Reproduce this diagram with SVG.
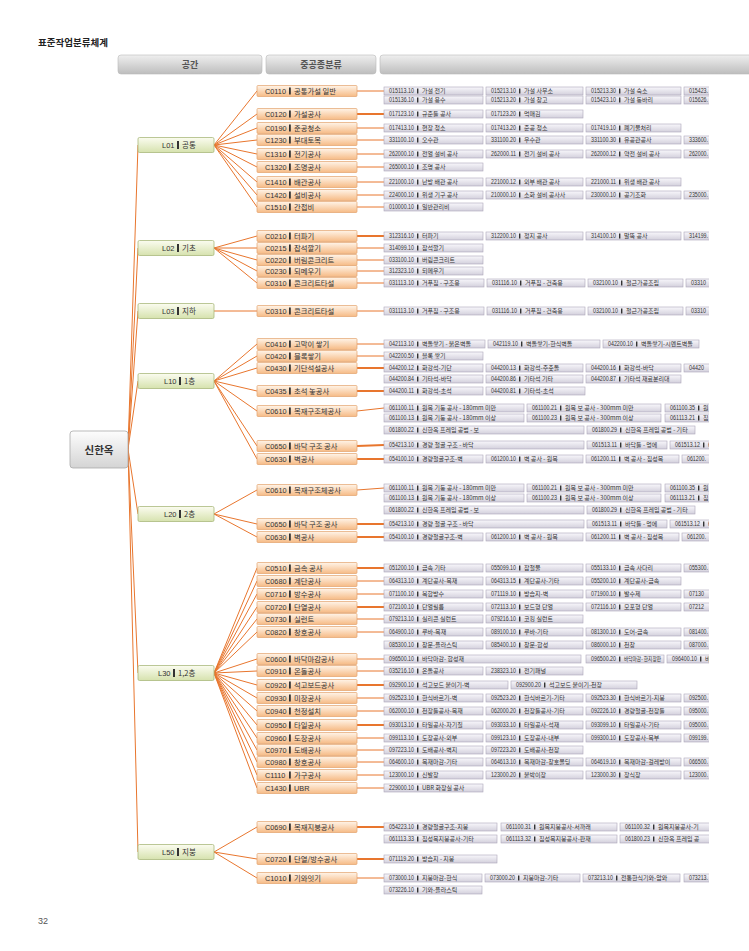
<svg xmlns="http://www.w3.org/2000/svg" width="749" height="951" viewBox="0 0 749 951">
<defs>
<linearGradient id="gh" x1="0" y1="0" x2="0" y2="1"><stop offset="0" stop-color="#efefef"/><stop offset="1" stop-color="#bdbdbd"/></linearGradient>
<linearGradient id="gr" x1="0" y1="0" x2="0" y2="1"><stop offset="0" stop-color="#fdfdfd"/><stop offset="1" stop-color="#d4d4d4"/></linearGradient>
<linearGradient id="gl" x1="0" y1="0" x2="0" y2="1"><stop offset="0" stop-color="#fbfcf0"/><stop offset="1" stop-color="#d6e2ae"/></linearGradient>
<linearGradient id="gc" x1="0" y1="0" x2="0" y2="1"><stop offset="0" stop-color="#fff4e8"/><stop offset="1" stop-color="#f6bb86"/></linearGradient>
<linearGradient id="gi" x1="0" y1="0" x2="0" y2="1"><stop offset="0" stop-color="#f8f7fb"/><stop offset="1" stop-color="#d3d0dc"/></linearGradient>
<clipPath id="cp"><rect x="0" y="0" width="709" height="951"/></clipPath>
</defs>
<style>
.ttl{font:bold 9.5px "Noto Sans CJK KR","Noto Sans",sans-serif;fill:#222}
.pg{font:9px "Liberation Sans",sans-serif;fill:#555}
.hb{fill:url(#gh);stroke:#b8b8b8;stroke-width:.6}
.ht{font:bold 9px "Noto Sans CJK KR",sans-serif;fill:#555;text-anchor:middle}
.rb{fill:url(#gr);stroke:#aaaaaa;stroke-width:.8}
.rt{font:bold 10.5px "Noto Sans CJK KR",sans-serif;fill:#333;text-anchor:middle}
.lb{fill:url(#gl);stroke:#a9b97c;stroke-width:.8}
.lc{font:7.5px "Liberation Sans",sans-serif;fill:#333}
.lm{font:7.5px "Noto Sans CJK KR",sans-serif;fill:#333}
.cb{fill:url(#gc);stroke:#e2a26c;stroke-width:.7}
.cc{font:7.3px "Liberation Sans",sans-serif;fill:#333}
.cm{font:7.3px "Noto Sans CJK KR",sans-serif;fill:#333}
.br{fill:#333}
.ib{fill:url(#gi);stroke:#aca6b8;stroke-width:.6}
.ic{font:6.5px "Liberation Sans",sans-serif;fill:#333}
.im{font:6px "Noto Sans CJK KR",sans-serif;fill:#333}
.ln{stroke:#e8762e;fill:none;stroke-width:1}
.lk{stroke:#e8762e;fill:none;stroke-width:2}
</style>
<rect width="749" height="951" fill="#ffffff"/>
<text class="ttl" x="38" y="46">표준작업분류체계</text>
<g id="header">
<rect class="hb" x="118" y="55" width="144" height="19" rx="3"/><text class="ht" x="190" y="68">공간</text>
<rect class="hb" x="266" y="55" width="110" height="19" rx="3"/><text class="ht" x="321" y="68">중공종분류</text>
<rect class="hb" x="380" y="55" width="375" height="19" rx="3"/>
</g>
<text class="pg" x="38" y="924">32</text>

<g id="connectors">
<path class="ln" d="M128,449 L138,145 M128,449 L138,248 M128,449 L138,311 M128,449 L138,381 M128,449 L138,514 M128,449 L138,673 M128,449 L138,852"/>
<path class="ln" d="M214,145 L257,91 M214,145 L257,114 M214,145 L257,128 M214,145 L257,140 M214,145 L257,154 M214,145 L257,167 M214,145 L257,182 M214,145 L257,195 M214,145 L257,207"/>
<path class="ln" d="M214,248 L257,236 M214,248 L257,248 M214,248 L257,260 M214,248 L257,271 M214,248 L257,283 M214,311 L257,311"/>
<path class="ln" d="M214,381 L257,344 M214,381 L257,356 M214,381 L257,368 M214,381 L257,391 M214,381 L257,411 M214,381 L257,446 M214,381 L257,459"/>
<path class="ln" d="M214,514 L257,490 M214,514 L257,524 M214,514 L257,537"/>
<path class="ln" d="M214,673 L257,568 M214,673 L257,581 M214,673 L257,594 M214,673 L257,607 M214,673 L257,619 M214,673 L257,632 M214,673 L257,659 M214,673 L257,671 M214,673 L257,685 M214,673 L257,698 M214,673 L257,711 M214,673 L257,725 M214,673 L257,738 M214,673 L257,750 M214,673 L257,762 M214,673 L257,775 M214,673 L257,788"/>
<path class="ln" d="M214,852 L257,827 M214,852 L257,859 M214,852 L257,878"/>
<path class="ln" d="M357,91 L384,91 M357,128 L384,128 M357,140 L384,140 M357,154 L384,154 M357,167 L384,167 M357,182 L384,182 M357,195 L384,195 M357,207 L384,207 M357,248 L384,248 M357,260 L384,260 M357,271 L384,271 M357,283 L384,283 M357,311 L384,311 M357,344 L384,344 M357,356 L384,356 M357,411 L384,408 M357,490 L384,488 M357,581 L384,581 M357,594 L384,594 M357,619 L384,619 M357,632 L384,632 M357,659 L384,659 M357,671 L384,671 M357,698 L384,698 M357,711 L384,711 M357,738 L384,738 M357,750 L384,750 M357,762 L384,762 M357,775 L384,775 M357,788 L384,788 M357,878 L384,878"/>
<path class="lk" d="M357,114 L384,114 M357,236 L384,236 M357,368 L384,368 M357,391 L384,391 M357,446 L384,445 M357,459 L384,459 M357,524 L384,524 M357,537 L384,537 M357,568 L384,568 M357,607 L384,607 M357,685 L384,685 M357,725 L384,725 M357,827 L384,827 M357,859 L384,859"/>
</g>

<g id="root"><rect class="rb" x="70" y="431" width="58" height="37" rx="3"/><text class="rt" x="99" y="453.5">신한옥</text></g>

<g id="L01" transform="translate(138,137.5)"><rect class="lb" width="76" height="15" rx="1.5"/><text class="lc" x="24" y="10.6">L01</text><rect class="br" x="39" y="3.5" width="2" height="8"/><text class="lm" x="44" y="10.8">공통</text></g>
<g id="L02" transform="translate(138,240.5)"><rect class="lb" width="76" height="15" rx="1.5"/><text class="lc" x="24" y="10.6">L02</text><rect class="br" x="39" y="3.5" width="2" height="8"/><text class="lm" x="44" y="10.8">기초</text></g>
<g id="L03" transform="translate(138,303.5)"><rect class="lb" width="76" height="15" rx="1.5"/><text class="lc" x="24" y="10.6">L03</text><rect class="br" x="39" y="3.5" width="2" height="8"/><text class="lm" x="44" y="10.8">지하</text></g>
<g id="L10" transform="translate(138,373.5)"><rect class="lb" width="76" height="15" rx="1.5"/><text class="lc" x="26" y="10.6">L10</text><rect class="br" x="41" y="3.5" width="2" height="8"/><text class="lm" x="46" y="10.8">1층</text></g>
<g id="L20" transform="translate(138,506.5)"><rect class="lb" width="76" height="15" rx="1.5"/><text class="lc" x="26" y="10.6">L20</text><rect class="br" x="41" y="3.5" width="2" height="8"/><text class="lm" x="46" y="10.8">2층</text></g>
<g id="L30" transform="translate(138,665.5)"><rect class="lb" width="76" height="15" rx="1.5"/><text class="lc" x="20" y="10.6">L30</text><rect class="br" x="35" y="3.5" width="2" height="8"/><text class="lm" x="40" y="10.8">1,2층</text></g>
<g id="L50" transform="translate(138,844.5)"><rect class="lb" width="76" height="15" rx="1.5"/><text class="lc" x="24" y="10.6">L50</text><rect class="br" x="39" y="3.5" width="2" height="8"/><text class="lm" x="44" y="10.8">지붕</text></g>

<g id="C0110" transform="translate(257,85.5)"><rect class="cb" width="100" height="11" rx="1"/><text class="cc" x="8" y="8.4">C0110</text><rect class="br" x="32" y="2" width="1.8" height="7"/><text class="cm" x="37" y="8.6">공통가설 일반</text></g>
<g id="C0120" transform="translate(257,108.5)"><rect class="cb" width="100" height="11" rx="1"/><text class="cc" x="8" y="8.4">C0120</text><rect class="br" x="32" y="2" width="1.8" height="7"/><text class="cm" x="37" y="8.6">가설공사</text></g>
<g id="C0190" transform="translate(257,122.5)"><rect class="cb" width="100" height="11" rx="1"/><text class="cc" x="8" y="8.4">C0190</text><rect class="br" x="32" y="2" width="1.8" height="7"/><text class="cm" x="37" y="8.6">준공청소</text></g>
<g id="C1230" transform="translate(257,134.5)"><rect class="cb" width="100" height="11" rx="1"/><text class="cc" x="8" y="8.4">C1230</text><rect class="br" x="32" y="2" width="1.8" height="7"/><text class="cm" x="37" y="8.6">부대토목</text></g>
<g id="C1310" transform="translate(257,148.5)"><rect class="cb" width="100" height="11" rx="1"/><text class="cc" x="8" y="8.4">C1310</text><rect class="br" x="32" y="2" width="1.8" height="7"/><text class="cm" x="37" y="8.6">전기공사</text></g>
<g id="C1320" transform="translate(257,161.5)"><rect class="cb" width="100" height="11" rx="1"/><text class="cc" x="8" y="8.4">C1320</text><rect class="br" x="32" y="2" width="1.8" height="7"/><text class="cm" x="37" y="8.6">조명공사</text></g>
<g id="C1410" transform="translate(257,176.5)"><rect class="cb" width="100" height="11" rx="1"/><text class="cc" x="8" y="8.4">C1410</text><rect class="br" x="32" y="2" width="1.8" height="7"/><text class="cm" x="37" y="8.6">배관공사</text></g>
<g id="C1420" transform="translate(257,189.5)"><rect class="cb" width="100" height="11" rx="1"/><text class="cc" x="8" y="8.4">C1420</text><rect class="br" x="32" y="2" width="1.8" height="7"/><text class="cm" x="37" y="8.6">설비공사</text></g>
<g id="C1510" transform="translate(257,201.5)"><rect class="cb" width="100" height="11" rx="1"/><text class="cc" x="8" y="8.4">C1510</text><rect class="br" x="32" y="2" width="1.8" height="7"/><text class="cm" x="37" y="8.6">간접비</text></g>
<g id="C0210" transform="translate(257,230.5)"><rect class="cb" width="100" height="11" rx="1"/><text class="cc" x="8" y="8.4">C0210</text><rect class="br" x="32" y="2" width="1.8" height="7"/><text class="cm" x="37" y="8.6">터파기</text></g>
<g id="C0215" transform="translate(257,242.5)"><rect class="cb" width="100" height="11" rx="1"/><text class="cc" x="8" y="8.4">C0215</text><rect class="br" x="32" y="2" width="1.8" height="7"/><text class="cm" x="37" y="8.6">잡석깔기</text></g>
<g id="C0220" transform="translate(257,254.5)"><rect class="cb" width="100" height="11" rx="1"/><text class="cc" x="8" y="8.4">C0220</text><rect class="br" x="32" y="2" width="1.8" height="7"/><text class="cm" x="37" y="8.6">버림콘크리트</text></g>
<g id="C0230" transform="translate(257,265.5)"><rect class="cb" width="100" height="11" rx="1"/><text class="cc" x="8" y="8.4">C0230</text><rect class="br" x="32" y="2" width="1.8" height="7"/><text class="cm" x="37" y="8.6">되메우기</text></g>
<g id="C0310a" transform="translate(257,277.5)"><rect class="cb" width="100" height="11" rx="1"/><text class="cc" x="8" y="8.4">C0310</text><rect class="br" x="32" y="2" width="1.8" height="7"/><text class="cm" x="37" y="8.6">콘크리트타설</text></g>
<g id="C0310b" transform="translate(257,305.5)"><rect class="cb" width="100" height="11" rx="1"/><text class="cc" x="8" y="8.4">C0310</text><rect class="br" x="32" y="2" width="1.8" height="7"/><text class="cm" x="37" y="8.6">콘크리트타설</text></g>
<g id="C0410" transform="translate(257,338.5)"><rect class="cb" width="100" height="11" rx="1"/><text class="cc" x="8" y="8.4">C0410</text><rect class="br" x="32" y="2" width="1.8" height="7"/><text class="cm" x="37" y="8.6">고막이 쌓기</text></g>
<g id="C0420" transform="translate(257,350.5)"><rect class="cb" width="100" height="11" rx="1"/><text class="cc" x="8" y="8.4">C0420</text><rect class="br" x="32" y="2" width="1.8" height="7"/><text class="cm" x="37" y="8.6">블록쌓기</text></g>
<g id="C0430" transform="translate(257,362.5)"><rect class="cb" width="100" height="11" rx="1"/><text class="cc" x="8" y="8.4">C0430</text><rect class="br" x="32" y="2" width="1.8" height="7"/><text class="cm" x="37" y="8.6">기단석설공사</text></g>
<g id="C0435" transform="translate(257,385.5)"><rect class="cb" width="100" height="11" rx="1"/><text class="cc" x="8" y="8.4">C0435</text><rect class="br" x="32" y="2" width="1.8" height="7"/><text class="cm" x="37" y="8.6">초석 놓공사</text></g>
<g id="C0610a" transform="translate(257,405.5)"><rect class="cb" width="100" height="11" rx="1"/><text class="cc" x="8" y="8.4">C0610</text><rect class="br" x="32" y="2" width="1.8" height="7"/><text class="cm" x="37" y="8.6">목재구조체공사</text></g>
<g id="C0650a" transform="translate(257,440.5)"><rect class="cb" width="100" height="11" rx="1"/><text class="cc" x="8" y="8.4">C0650</text><rect class="br" x="32" y="2" width="1.8" height="7"/><text class="cm" x="37" y="8.6">바닥 구조 공사</text></g>
<g id="C0630a" transform="translate(257,453.5)"><rect class="cb" width="100" height="11" rx="1"/><text class="cc" x="8" y="8.4">C0630</text><rect class="br" x="32" y="2" width="1.8" height="7"/><text class="cm" x="37" y="8.6">벽공사</text></g>
<g id="C0610b" transform="translate(257,484.5)"><rect class="cb" width="100" height="11" rx="1"/><text class="cc" x="8" y="8.4">C0610</text><rect class="br" x="32" y="2" width="1.8" height="7"/><text class="cm" x="37" y="8.6">목재구조체공사</text></g>
<g id="C0650b" transform="translate(257,518.5)"><rect class="cb" width="100" height="11" rx="1"/><text class="cc" x="8" y="8.4">C0650</text><rect class="br" x="32" y="2" width="1.8" height="7"/><text class="cm" x="37" y="8.6">바닥 구조 공사</text></g>
<g id="C0630b" transform="translate(257,531.5)"><rect class="cb" width="100" height="11" rx="1"/><text class="cc" x="8" y="8.4">C0630</text><rect class="br" x="32" y="2" width="1.8" height="7"/><text class="cm" x="37" y="8.6">벽공사</text></g>
<g id="C0510" transform="translate(257,562.5)"><rect class="cb" width="100" height="11" rx="1"/><text class="cc" x="8" y="8.4">C0510</text><rect class="br" x="32" y="2" width="1.8" height="7"/><text class="cm" x="37" y="8.6">금속 공사</text></g>
<g id="C0680" transform="translate(257,575.5)"><rect class="cb" width="100" height="11" rx="1"/><text class="cc" x="8" y="8.4">C0680</text><rect class="br" x="32" y="2" width="1.8" height="7"/><text class="cm" x="37" y="8.6">계단공사</text></g>
<g id="C0710" transform="translate(257,588.5)"><rect class="cb" width="100" height="11" rx="1"/><text class="cc" x="8" y="8.4">C0710</text><rect class="br" x="32" y="2" width="1.8" height="7"/><text class="cm" x="37" y="8.6">방수공사</text></g>
<g id="C0720a" transform="translate(257,601.5)"><rect class="cb" width="100" height="11" rx="1"/><text class="cc" x="8" y="8.4">C0720</text><rect class="br" x="32" y="2" width="1.8" height="7"/><text class="cm" x="37" y="8.6">단열공사</text></g>
<g id="C0730" transform="translate(257,613.5)"><rect class="cb" width="100" height="11" rx="1"/><text class="cc" x="8" y="8.4">C0730</text><rect class="br" x="32" y="2" width="1.8" height="7"/><text class="cm" x="37" y="8.6">실런트</text></g>
<g id="C0820" transform="translate(257,626.5)"><rect class="cb" width="100" height="11" rx="1"/><text class="cc" x="8" y="8.4">C0820</text><rect class="br" x="32" y="2" width="1.8" height="7"/><text class="cm" x="37" y="8.6">창호공사</text></g>
<g id="C0600" transform="translate(257,653.5)"><rect class="cb" width="100" height="11" rx="1"/><text class="cc" x="8" y="8.4">C0600</text><rect class="br" x="32" y="2" width="1.8" height="7"/><text class="cm" x="37" y="8.6">바닥마감공사</text></g>
<g id="C0910" transform="translate(257,665.5)"><rect class="cb" width="100" height="11" rx="1"/><text class="cc" x="8" y="8.4">C0910</text><rect class="br" x="32" y="2" width="1.8" height="7"/><text class="cm" x="37" y="8.6">온돌공사</text></g>
<g id="C0920" transform="translate(257,679.5)"><rect class="cb" width="100" height="11" rx="1"/><text class="cc" x="8" y="8.4">C0920</text><rect class="br" x="32" y="2" width="1.8" height="7"/><text class="cm" x="37" y="8.6">석고보드공사</text></g>
<g id="C0930" transform="translate(257,692.5)"><rect class="cb" width="100" height="11" rx="1"/><text class="cc" x="8" y="8.4">C0930</text><rect class="br" x="32" y="2" width="1.8" height="7"/><text class="cm" x="37" y="8.6">미장공사</text></g>
<g id="C0940" transform="translate(257,705.5)"><rect class="cb" width="100" height="11" rx="1"/><text class="cc" x="8" y="8.4">C0940</text><rect class="br" x="32" y="2" width="1.8" height="7"/><text class="cm" x="37" y="8.6">천정설치</text></g>
<g id="C0950" transform="translate(257,719.5)"><rect class="cb" width="100" height="11" rx="1"/><text class="cc" x="8" y="8.4">C0950</text><rect class="br" x="32" y="2" width="1.8" height="7"/><text class="cm" x="37" y="8.6">타일공사</text></g>
<g id="C0960" transform="translate(257,732.5)"><rect class="cb" width="100" height="11" rx="1"/><text class="cc" x="8" y="8.4">C0960</text><rect class="br" x="32" y="2" width="1.8" height="7"/><text class="cm" x="37" y="8.6">도장공사</text></g>
<g id="C0970" transform="translate(257,744.5)"><rect class="cb" width="100" height="11" rx="1"/><text class="cc" x="8" y="8.4">C0970</text><rect class="br" x="32" y="2" width="1.8" height="7"/><text class="cm" x="37" y="8.6">도배공사</text></g>
<g id="C0980" transform="translate(257,756.5)"><rect class="cb" width="100" height="11" rx="1"/><text class="cc" x="8" y="8.4">C0980</text><rect class="br" x="32" y="2" width="1.8" height="7"/><text class="cm" x="37" y="8.6">창호공사</text></g>
<g id="C1110" transform="translate(257,769.5)"><rect class="cb" width="100" height="11" rx="1"/><text class="cc" x="8" y="8.4">C1110</text><rect class="br" x="32" y="2" width="1.8" height="7"/><text class="cm" x="37" y="8.6">가구공사</text></g>
<g id="C1430" transform="translate(257,782.5)"><rect class="cb" width="100" height="11" rx="1"/><text class="cc" x="8" y="8.4">C1430</text><rect class="br" x="32" y="2" width="1.8" height="7"/><text class="cc" x="37" y="8.4">UBR</text></g>
<g id="C0690" transform="translate(257,821.5)"><rect class="cb" width="100" height="11" rx="1"/><text class="cc" x="8" y="8.4">C0690</text><rect class="br" x="32" y="2" width="1.8" height="7"/><text class="cm" x="37" y="8.6">목재지붕공사</text></g>
<g id="C0720b" transform="translate(257,853.5)"><rect class="cb" width="100" height="11" rx="1"/><text class="cc" x="8" y="8.4">C0720</text><rect class="br" x="32" y="2" width="1.8" height="7"/><text class="cm" x="37" y="8.6">단열/방수공사</text></g>
<g id="C1010" transform="translate(257,872.5)"><rect class="cb" width="100" height="11" rx="1"/><text class="cc" x="8" y="8.4">C1010</text><rect class="br" x="32" y="2" width="1.8" height="7"/><text class="cm" x="37" y="8.6">기와잇기</text></g>

<g id="items" clip-path="url(#cp)">
<g transform="translate(384,87)"><rect class="ib" width="99" height="8"/><text class="ic" x="5" y="6.2" textLength="25" lengthAdjust="spacingAndGlyphs">015113.10</text><rect class="br" x="33" y="1.5" width="1.4" height="5"/><text class="im" x="38" y="6.4">가설 전기</text></g>
<g transform="translate(486,87)"><rect class="ib" width="97" height="8"/><text class="ic" x="5" y="6.2" textLength="25" lengthAdjust="spacingAndGlyphs">015213.10</text><rect class="br" x="33" y="1.5" width="1.4" height="5"/><text class="im" x="38" y="6.4">가설 사무소</text></g>
<g transform="translate(586,87)"><rect class="ib" width="95" height="8"/><text class="ic" x="5" y="6.2" textLength="25" lengthAdjust="spacingAndGlyphs">015213.30</text><rect class="br" x="33" y="1.5" width="1.4" height="5"/><text class="im" x="38" y="6.4">가설 숙소</text></g>
<g transform="translate(684,87)"><rect class="ib" width="40" height="8"/><text class="ic" x="5" y="6.2" textLength="19" lengthAdjust="spacingAndGlyphs">015423.</text></g>
<g transform="translate(384,96)"><rect class="ib" width="99" height="8"/><text class="ic" x="5" y="6.2" textLength="25" lengthAdjust="spacingAndGlyphs">015136.10</text><rect class="br" x="33" y="1.5" width="1.4" height="5"/><text class="im" x="38" y="6.4">가설 용수</text></g>
<g transform="translate(486,96)"><rect class="ib" width="97" height="8"/><text class="ic" x="5" y="6.2" textLength="25" lengthAdjust="spacingAndGlyphs">015213.20</text><rect class="br" x="33" y="1.5" width="1.4" height="5"/><text class="im" x="38" y="6.4">가설 창고</text></g>
<g transform="translate(586,96)"><rect class="ib" width="95" height="8"/><text class="ic" x="5" y="6.2" textLength="25" lengthAdjust="spacingAndGlyphs">015423.10</text><rect class="br" x="33" y="1.5" width="1.4" height="5"/><text class="im" x="38" y="6.4">가설 동바리</text></g>
<g transform="translate(684,96)"><rect class="ib" width="40" height="8"/><text class="ic" x="5" y="6.2" textLength="19" lengthAdjust="spacingAndGlyphs">015626.</text></g>
<g transform="translate(384,110)"><rect class="ib" width="99" height="8"/><text class="ic" x="5" y="6.2" textLength="25" lengthAdjust="spacingAndGlyphs">017123.10</text><rect class="br" x="33" y="1.5" width="1.4" height="5"/><text class="im" x="38" y="6.4">규준틀 공사</text></g>
<g transform="translate(486,110)"><rect class="ib" width="97" height="8"/><text class="ic" x="5" y="6.2" textLength="25" lengthAdjust="spacingAndGlyphs">017123.20</text><rect class="br" x="33" y="1.5" width="1.4" height="5"/><text class="im" x="38" y="6.4">먹매김</text></g>
<g transform="translate(384,124)"><rect class="ib" width="99" height="8"/><text class="ic" x="5" y="6.2" textLength="25" lengthAdjust="spacingAndGlyphs">017413.10</text><rect class="br" x="33" y="1.5" width="1.4" height="5"/><text class="im" x="38" y="6.4">현장 청소</text></g>
<g transform="translate(486,124)"><rect class="ib" width="97" height="8"/><text class="ic" x="5" y="6.2" textLength="25" lengthAdjust="spacingAndGlyphs">017413.20</text><rect class="br" x="33" y="1.5" width="1.4" height="5"/><text class="im" x="38" y="6.4">준공 청소</text></g>
<g transform="translate(586,124)"><rect class="ib" width="95" height="8"/><text class="ic" x="5" y="6.2" textLength="25" lengthAdjust="spacingAndGlyphs">017419.10</text><rect class="br" x="33" y="1.5" width="1.4" height="5"/><text class="im" x="38" y="6.4">폐기물처리</text></g>
<g transform="translate(384,136)"><rect class="ib" width="99" height="8"/><text class="ic" x="5" y="6.2" textLength="25" lengthAdjust="spacingAndGlyphs">331100.10</text><rect class="br" x="33" y="1.5" width="1.4" height="5"/><text class="im" x="38" y="6.4">오수관</text></g>
<g transform="translate(486,136)"><rect class="ib" width="97" height="8"/><text class="ic" x="5" y="6.2" textLength="25" lengthAdjust="spacingAndGlyphs">331100.20</text><rect class="br" x="33" y="1.5" width="1.4" height="5"/><text class="im" x="38" y="6.4">우수관</text></g>
<g transform="translate(586,136)"><rect class="ib" width="95" height="8"/><text class="ic" x="5" y="6.2" textLength="25" lengthAdjust="spacingAndGlyphs">331100.30</text><rect class="br" x="33" y="1.5" width="1.4" height="5"/><text class="im" x="38" y="6.4">유공관공사</text></g>
<g transform="translate(684,136)"><rect class="ib" width="40" height="8"/><text class="ic" x="5" y="6.2" textLength="19" lengthAdjust="spacingAndGlyphs">333600.</text></g>
<g transform="translate(384,150)"><rect class="ib" width="99" height="8"/><text class="ic" x="5" y="6.2" textLength="25" lengthAdjust="spacingAndGlyphs">262000.10</text><rect class="br" x="33" y="1.5" width="1.4" height="5"/><text class="im" x="38" y="6.4">전열 설비 공사</text></g>
<g transform="translate(486,150)"><rect class="ib" width="97" height="8"/><text class="ic" x="5" y="6.2" textLength="25" lengthAdjust="spacingAndGlyphs">262000.11</text><rect class="br" x="33" y="1.5" width="1.4" height="5"/><text class="im" x="38" y="6.4">전기 설비 공사</text></g>
<g transform="translate(586,150)"><rect class="ib" width="95" height="8"/><text class="ic" x="5" y="6.2" textLength="25" lengthAdjust="spacingAndGlyphs">262000.12</text><rect class="br" x="33" y="1.5" width="1.4" height="5"/><text class="im" x="38" y="6.4">약전 설비 공사</text></g>
<g transform="translate(684,150)"><rect class="ib" width="40" height="8"/><text class="ic" x="5" y="6.2" textLength="19" lengthAdjust="spacingAndGlyphs">262000.</text></g>
<g transform="translate(384,163)"><rect class="ib" width="99" height="8"/><text class="ic" x="5" y="6.2" textLength="25" lengthAdjust="spacingAndGlyphs">265000.10</text><rect class="br" x="33" y="1.5" width="1.4" height="5"/><text class="im" x="38" y="6.4">조명 공사</text></g>
<g transform="translate(384,178)"><rect class="ib" width="99" height="8"/><text class="ic" x="5" y="6.2" textLength="25" lengthAdjust="spacingAndGlyphs">221000.10</text><rect class="br" x="33" y="1.5" width="1.4" height="5"/><text class="im" x="38" y="6.4">난방 배관 공사</text></g>
<g transform="translate(486,178)"><rect class="ib" width="97" height="8"/><text class="ic" x="5" y="6.2" textLength="25" lengthAdjust="spacingAndGlyphs">221000.12</text><rect class="br" x="33" y="1.5" width="1.4" height="5"/><text class="im" x="38" y="6.4">외부 배관 공사</text></g>
<g transform="translate(586,178)"><rect class="ib" width="95" height="8"/><text class="ic" x="5" y="6.2" textLength="25" lengthAdjust="spacingAndGlyphs">221000.11</text><rect class="br" x="33" y="1.5" width="1.4" height="5"/><text class="im" x="38" y="6.4">위생 배관 공사</text></g>
<g transform="translate(384,191)"><rect class="ib" width="99" height="8"/><text class="ic" x="5" y="6.2" textLength="25" lengthAdjust="spacingAndGlyphs">224000.10</text><rect class="br" x="33" y="1.5" width="1.4" height="5"/><text class="im" x="38" y="6.4">위생 기구 공사</text></g>
<g transform="translate(486,191)"><rect class="ib" width="97" height="8"/><text class="ic" x="5" y="6.2" textLength="25" lengthAdjust="spacingAndGlyphs">210000.10</text><rect class="br" x="33" y="1.5" width="1.4" height="5"/><text class="im" x="38" y="6.4">소화 설비 공사사</text></g>
<g transform="translate(586,191)"><rect class="ib" width="95" height="8"/><text class="ic" x="5" y="6.2" textLength="25" lengthAdjust="spacingAndGlyphs">230000.10</text><rect class="br" x="33" y="1.5" width="1.4" height="5"/><text class="im" x="38" y="6.4">공기조화</text></g>
<g transform="translate(684,191)"><rect class="ib" width="40" height="8"/><text class="ic" x="5" y="6.2" textLength="19" lengthAdjust="spacingAndGlyphs">235000.</text></g>
<g transform="translate(384,203)"><rect class="ib" width="99" height="8"/><text class="ic" x="5" y="6.2" textLength="25" lengthAdjust="spacingAndGlyphs">010000.10</text><rect class="br" x="33" y="1.5" width="1.4" height="5"/><text class="im" x="38" y="6.4">일반관리비</text></g>

<g transform="translate(384,232)"><rect class="ib" width="99" height="8"/><text class="ic" x="5" y="6.2" textLength="25" lengthAdjust="spacingAndGlyphs">312316.10</text><rect class="br" x="33" y="1.5" width="1.4" height="5"/><text class="im" x="38" y="6.4">터파기</text></g>
<g transform="translate(486,232)"><rect class="ib" width="97" height="8"/><text class="ic" x="5" y="6.2" textLength="25" lengthAdjust="spacingAndGlyphs">312200.10</text><rect class="br" x="33" y="1.5" width="1.4" height="5"/><text class="im" x="38" y="6.4">정지 공사</text></g>
<g transform="translate(586,232)"><rect class="ib" width="95" height="8"/><text class="ic" x="5" y="6.2" textLength="25" lengthAdjust="spacingAndGlyphs">314100.10</text><rect class="br" x="33" y="1.5" width="1.4" height="5"/><text class="im" x="38" y="6.4">말뚝 공사</text></g>
<g transform="translate(684,232)"><rect class="ib" width="40" height="8"/><text class="ic" x="5" y="6.2" textLength="19" lengthAdjust="spacingAndGlyphs">314199.</text></g>
<g transform="translate(384,244)"><rect class="ib" width="99" height="8"/><text class="ic" x="5" y="6.2" textLength="25" lengthAdjust="spacingAndGlyphs">314099.10</text><rect class="br" x="33" y="1.5" width="1.4" height="5"/><text class="im" x="38" y="6.4">잡석깔기</text></g>
<g transform="translate(384,256)"><rect class="ib" width="99" height="8"/><text class="ic" x="5" y="6.2" textLength="25" lengthAdjust="spacingAndGlyphs">033100.10</text><rect class="br" x="33" y="1.5" width="1.4" height="5"/><text class="im" x="38" y="6.4">버림콘크리트</text></g>
<g transform="translate(384,267)"><rect class="ib" width="99" height="8"/><text class="ic" x="5" y="6.2" textLength="25" lengthAdjust="spacingAndGlyphs">312323.10</text><rect class="br" x="33" y="1.5" width="1.4" height="5"/><text class="im" x="38" y="6.4">되메우기</text></g>
<g transform="translate(384,279)"><rect class="ib" width="100" height="8"/><text class="ic" x="5" y="6.2" textLength="25" lengthAdjust="spacingAndGlyphs">031113.10</text><rect class="br" x="33" y="1.5" width="1.4" height="5"/><text class="im" x="38" y="6.4">거푸집 - 구조용</text></g>
<g transform="translate(487,279)"><rect class="ib" width="98" height="8"/><text class="ic" x="5" y="6.2" textLength="25" lengthAdjust="spacingAndGlyphs">031116.10</text><rect class="br" x="33" y="1.5" width="1.4" height="5"/><text class="im" x="38" y="6.4">거푸집 - 건축용</text></g>
<g transform="translate(588,279)"><rect class="ib" width="95" height="8"/><text class="ic" x="5" y="6.2" textLength="25" lengthAdjust="spacingAndGlyphs">032100.10</text><rect class="br" x="33" y="1.5" width="1.4" height="5"/><text class="im" x="38" y="6.4">철근가공조립</text></g>
<g transform="translate(686,279)"><rect class="ib" width="40" height="8"/><text class="ic" x="5" y="6.2" textLength="15" lengthAdjust="spacingAndGlyphs">03310</text></g>
<g transform="translate(384,307)"><rect class="ib" width="100" height="8"/><text class="ic" x="5" y="6.2" textLength="25" lengthAdjust="spacingAndGlyphs">031113.10</text><rect class="br" x="33" y="1.5" width="1.4" height="5"/><text class="im" x="38" y="6.4">거푸집 - 구조용</text></g>
<g transform="translate(487,307)"><rect class="ib" width="98" height="8"/><text class="ic" x="5" y="6.2" textLength="25" lengthAdjust="spacingAndGlyphs">031116.10</text><rect class="br" x="33" y="1.5" width="1.4" height="5"/><text class="im" x="38" y="6.4">거푸집 - 건축용</text></g>
<g transform="translate(588,307)"><rect class="ib" width="95" height="8"/><text class="ic" x="5" y="6.2" textLength="25" lengthAdjust="spacingAndGlyphs">032100.10</text><rect class="br" x="33" y="1.5" width="1.4" height="5"/><text class="im" x="38" y="6.4">철근가공조립</text></g>
<g transform="translate(686,307)"><rect class="ib" width="40" height="8"/><text class="ic" x="5" y="6.2" textLength="15" lengthAdjust="spacingAndGlyphs">03310</text></g>

<g transform="translate(384,340)"><rect class="ib" width="101" height="8"/><text class="ic" x="5" y="6.2" textLength="25" lengthAdjust="spacingAndGlyphs">042113.10</text><rect class="br" x="33" y="1.5" width="1.4" height="5"/><text class="im" x="38" y="6.4">벽돌쌓기 - 붉은벽돌</text></g>
<g transform="translate(488,340)"><rect class="ib" width="112" height="8"/><text class="ic" x="5" y="6.2" textLength="25" lengthAdjust="spacingAndGlyphs">042119.10</text><rect class="br" x="33" y="1.5" width="1.4" height="5"/><text class="im" x="38" y="6.4">벽돌쌓기-한식벽돌</text></g>
<g transform="translate(603,340)"><rect class="ib" width="96" height="8"/><text class="ic" x="5" y="6.2" textLength="25" lengthAdjust="spacingAndGlyphs">042200.10</text><rect class="br" x="33" y="1.5" width="1.4" height="5"/><text class="im" x="38" y="6.4">벽돌쌓기-시멘트벽돌</text></g>
<g transform="translate(384,352)"><rect class="ib" width="99" height="8"/><text class="ic" x="5" y="6.2" textLength="25" lengthAdjust="spacingAndGlyphs">042200.50</text><rect class="br" x="33" y="1.5" width="1.4" height="5"/><text class="im" x="38" y="6.4">블록 쌓기</text></g>
<g transform="translate(384,364)"><rect class="ib" width="99" height="8"/><text class="ic" x="5" y="6.2" textLength="25" lengthAdjust="spacingAndGlyphs">044200.12</text><rect class="br" x="33" y="1.5" width="1.4" height="5"/><text class="im" x="38" y="6.4">화강석-기단</text></g>
<g transform="translate(486,364)"><rect class="ib" width="97" height="8"/><text class="ic" x="5" y="6.2" textLength="25" lengthAdjust="spacingAndGlyphs">044200.13</text><rect class="br" x="33" y="1.5" width="1.4" height="5"/><text class="im" x="38" y="6.4">화강석-주춧돌</text></g>
<g transform="translate(586,364)"><rect class="ib" width="95" height="8"/><text class="ic" x="5" y="6.2" textLength="25" lengthAdjust="spacingAndGlyphs">044200.16</text><rect class="br" x="33" y="1.5" width="1.4" height="5"/><text class="im" x="38" y="6.4">화강석-바닥</text></g>
<g transform="translate(684,364)"><rect class="ib" width="40" height="8"/><text class="ic" x="5" y="6.2" textLength="15" lengthAdjust="spacingAndGlyphs">04420</text></g>
<g transform="translate(384,375)"><rect class="ib" width="99" height="8"/><text class="ic" x="5" y="6.2" textLength="25" lengthAdjust="spacingAndGlyphs">044200.84</text><rect class="br" x="33" y="1.5" width="1.4" height="5"/><text class="im" x="38" y="6.4">기타석-바닥</text></g>
<g transform="translate(486,375)"><rect class="ib" width="97" height="8"/><text class="ic" x="5" y="6.2" textLength="25" lengthAdjust="spacingAndGlyphs">044200.86</text><rect class="br" x="33" y="1.5" width="1.4" height="5"/><text class="im" x="38" y="6.4">기타석 기타</text></g>
<g transform="translate(586,375)"><rect class="ib" width="95" height="8"/><text class="ic" x="5" y="6.2" textLength="25" lengthAdjust="spacingAndGlyphs">044200.87</text><rect class="br" x="33" y="1.5" width="1.4" height="5"/><text class="im" x="38" y="6.4">기타석 재료분리대</text></g>
<g transform="translate(384,387)"><rect class="ib" width="99" height="8"/><text class="ic" x="5" y="6.2" textLength="25" lengthAdjust="spacingAndGlyphs">044200.11</text><rect class="br" x="33" y="1.5" width="1.4" height="5"/><text class="im" x="38" y="6.4">화강석-초석</text></g>
<g transform="translate(486,387)"><rect class="ib" width="99" height="8"/><text class="ic" x="5" y="6.2" textLength="25" lengthAdjust="spacingAndGlyphs">044200.81</text><rect class="br" x="33" y="1.5" width="1.4" height="5"/><text class="im" x="38" y="6.4">기타석-초석</text></g>

<g transform="translate(384,404)"><rect class="ib" width="140" height="8"/><text class="ic" x="5" y="6.2" textLength="25" lengthAdjust="spacingAndGlyphs">061100.11</text><rect class="br" x="33" y="1.5" width="1.4" height="5"/><text class="im" x="38" y="6.4">원목 기둥 공사 - 180mm 미만</text></g>
<g transform="translate(527,404)"><rect class="ib" width="134" height="8"/><text class="ic" x="5" y="6.2" textLength="25" lengthAdjust="spacingAndGlyphs">061100.21</text><rect class="br" x="33" y="1.5" width="1.4" height="5"/><text class="im" x="38" y="6.4">원목 보 공사 - 300mm 미만</text></g>
<g transform="translate(665,404)"><rect class="ib" width="50" height="8"/><text class="ic" x="5" y="6.2" textLength="25" lengthAdjust="spacingAndGlyphs">061100.35</text><rect class="br" x="33" y="1.5" width="1.4" height="5"/><text class="im" x="38" y="6.4">원</text></g>
<g transform="translate(384,414)"><rect class="ib" width="140" height="8"/><text class="ic" x="5" y="6.2" textLength="25" lengthAdjust="spacingAndGlyphs">061100.13</text><rect class="br" x="33" y="1.5" width="1.4" height="5"/><text class="im" x="38" y="6.4">원목 기둥 공사 - 180mm 이상</text></g>
<g transform="translate(527,414)"><rect class="ib" width="134" height="8"/><text class="ic" x="5" y="6.2" textLength="25" lengthAdjust="spacingAndGlyphs">061100.23</text><rect class="br" x="33" y="1.5" width="1.4" height="5"/><text class="im" x="38" y="6.4">원목 보 공사 - 300mm 이상</text></g>
<g transform="translate(665,414)"><rect class="ib" width="50" height="8"/><text class="ic" x="5" y="6.2" textLength="25" lengthAdjust="spacingAndGlyphs">061113.21</text><rect class="br" x="33" y="1.5" width="1.4" height="5"/><text class="im" x="38" y="6.4">집</text></g>
<g transform="translate(384,426)"><rect class="ib" width="200" height="8"/><text class="ic" x="5" y="6.2" textLength="25" lengthAdjust="spacingAndGlyphs">061800.22</text><rect class="br" x="33" y="1.5" width="1.4" height="5"/><text class="im" x="38" y="6.4">신한옥 프레임 공법 - 보</text></g>
<g transform="translate(587,426)"><rect class="ib" width="108" height="8"/><text class="ic" x="5" y="6.2" textLength="25" lengthAdjust="spacingAndGlyphs">061800.29</text><rect class="br" x="33" y="1.5" width="1.4" height="5"/><text class="im" x="38" y="6.4">신한옥 프레임 공법 - 기타</text></g>
<g transform="translate(384,441)"><rect class="ib" width="200" height="8"/><text class="ic" x="5" y="6.2" textLength="25" lengthAdjust="spacingAndGlyphs">054213.10</text><rect class="br" x="33" y="1.5" width="1.4" height="5"/><text class="im" x="38" y="6.4">경량 철골 구조 - 바닥</text></g>
<g transform="translate(587,441)"><rect class="ib" width="80" height="8"/><text class="ic" x="5" y="6.2" textLength="25" lengthAdjust="spacingAndGlyphs">061513.11</text><rect class="br" x="33" y="1.5" width="1.4" height="5"/><text class="im" x="38" y="6.4">바닥틀 - 멍에</text></g>
<g transform="translate(670,441)"><rect class="ib" width="50" height="8"/><text class="ic" x="5" y="6.2" textLength="25" lengthAdjust="spacingAndGlyphs">061513.12</text><rect class="br" x="33" y="1.5" width="1.4" height="5"/><text class="im" x="38" y="6.4">바</text></g>
<g transform="translate(384,455)"><rect class="ib" width="99" height="8"/><text class="ic" x="5" y="6.2" textLength="25" lengthAdjust="spacingAndGlyphs">054100.10</text><rect class="br" x="33" y="1.5" width="1.4" height="5"/><text class="im" x="38" y="6.4">경량철골구조-벽</text></g>
<g transform="translate(486,455)"><rect class="ib" width="97" height="8"/><text class="ic" x="5" y="6.2" textLength="25" lengthAdjust="spacingAndGlyphs">061200.10</text><rect class="br" x="33" y="1.5" width="1.4" height="5"/><text class="im" x="38" y="6.4">벽 공사 - 원목</text></g>
<g transform="translate(586,455)"><rect class="ib" width="93" height="8"/><text class="ic" x="5" y="6.2" textLength="25" lengthAdjust="spacingAndGlyphs">061200.11</text><rect class="br" x="33" y="1.5" width="1.4" height="5"/><text class="im" x="38" y="6.4">벽 공사 - 집성목</text></g>
<g transform="translate(682,455)"><rect class="ib" width="40" height="8"/><text class="ic" x="5" y="6.2" textLength="19" lengthAdjust="spacingAndGlyphs">061200.</text></g>

<g transform="translate(384,484)"><rect class="ib" width="140" height="8"/><text class="ic" x="5" y="6.2" textLength="25" lengthAdjust="spacingAndGlyphs">061100.11</text><rect class="br" x="33" y="1.5" width="1.4" height="5"/><text class="im" x="38" y="6.4">원목 기둥 공사 - 180mm 미만</text></g>
<g transform="translate(527,484)"><rect class="ib" width="134" height="8"/><text class="ic" x="5" y="6.2" textLength="25" lengthAdjust="spacingAndGlyphs">061100.21</text><rect class="br" x="33" y="1.5" width="1.4" height="5"/><text class="im" x="38" y="6.4">원목 보 공사 - 300mm 미만</text></g>
<g transform="translate(665,484)"><rect class="ib" width="50" height="8"/><text class="ic" x="5" y="6.2" textLength="25" lengthAdjust="spacingAndGlyphs">061100.35</text><rect class="br" x="33" y="1.5" width="1.4" height="5"/><text class="im" x="38" y="6.4">원</text></g>
<g transform="translate(384,494)"><rect class="ib" width="140" height="8"/><text class="ic" x="5" y="6.2" textLength="25" lengthAdjust="spacingAndGlyphs">061100.13</text><rect class="br" x="33" y="1.5" width="1.4" height="5"/><text class="im" x="38" y="6.4">원목 기둥 공사 - 180mm 이상</text></g>
<g transform="translate(527,494)"><rect class="ib" width="134" height="8"/><text class="ic" x="5" y="6.2" textLength="25" lengthAdjust="spacingAndGlyphs">061100.23</text><rect class="br" x="33" y="1.5" width="1.4" height="5"/><text class="im" x="38" y="6.4">원목 보 공사 - 300mm 이상</text></g>
<g transform="translate(665,494)"><rect class="ib" width="50" height="8"/><text class="ic" x="5" y="6.2" textLength="25" lengthAdjust="spacingAndGlyphs">061113.21</text><rect class="br" x="33" y="1.5" width="1.4" height="5"/><text class="im" x="38" y="6.4">집</text></g>
<g transform="translate(384,506)"><rect class="ib" width="200" height="8"/><text class="ic" x="5" y="6.2" textLength="25" lengthAdjust="spacingAndGlyphs">061800.22</text><rect class="br" x="33" y="1.5" width="1.4" height="5"/><text class="im" x="38" y="6.4">신한옥 프레임 공법 - 보</text></g>
<g transform="translate(587,506)"><rect class="ib" width="108" height="8"/><text class="ic" x="5" y="6.2" textLength="25" lengthAdjust="spacingAndGlyphs">061800.29</text><rect class="br" x="33" y="1.5" width="1.4" height="5"/><text class="im" x="38" y="6.4">신한옥 프레임 공법 - 기타</text></g>
<g transform="translate(384,520)"><rect class="ib" width="200" height="8"/><text class="ic" x="5" y="6.2" textLength="25" lengthAdjust="spacingAndGlyphs">054213.10</text><rect class="br" x="33" y="1.5" width="1.4" height="5"/><text class="im" x="38" y="6.4">경량 철골 구조 - 바닥</text></g>
<g transform="translate(587,520)"><rect class="ib" width="80" height="8"/><text class="ic" x="5" y="6.2" textLength="25" lengthAdjust="spacingAndGlyphs">061513.11</text><rect class="br" x="33" y="1.5" width="1.4" height="5"/><text class="im" x="38" y="6.4">바닥틀 - 멍에</text></g>
<g transform="translate(670,520)"><rect class="ib" width="50" height="8"/><text class="ic" x="5" y="6.2" textLength="25" lengthAdjust="spacingAndGlyphs">061513.12</text><rect class="br" x="33" y="1.5" width="1.4" height="5"/><text class="im" x="38" y="6.4">바</text></g>
<g transform="translate(384,533)"><rect class="ib" width="99" height="8"/><text class="ic" x="5" y="6.2" textLength="25" lengthAdjust="spacingAndGlyphs">054100.10</text><rect class="br" x="33" y="1.5" width="1.4" height="5"/><text class="im" x="38" y="6.4">경량철골구조-벽</text></g>
<g transform="translate(486,533)"><rect class="ib" width="97" height="8"/><text class="ic" x="5" y="6.2" textLength="25" lengthAdjust="spacingAndGlyphs">061200.10</text><rect class="br" x="33" y="1.5" width="1.4" height="5"/><text class="im" x="38" y="6.4">벽 공사 - 원목</text></g>
<g transform="translate(586,533)"><rect class="ib" width="93" height="8"/><text class="ic" x="5" y="6.2" textLength="25" lengthAdjust="spacingAndGlyphs">061200.11</text><rect class="br" x="33" y="1.5" width="1.4" height="5"/><text class="im" x="38" y="6.4">벽 공사 - 집성목</text></g>
<g transform="translate(682,533)"><rect class="ib" width="40" height="8"/><text class="ic" x="5" y="6.2" textLength="19" lengthAdjust="spacingAndGlyphs">061200.</text></g>

<g transform="translate(384,564)"><rect class="ib" width="99" height="8"/><text class="ic" x="5" y="6.2" textLength="25" lengthAdjust="spacingAndGlyphs">051200.10</text><rect class="br" x="33" y="1.5" width="1.4" height="5"/><text class="im" x="38" y="6.4">금속 기타</text></g>
<g transform="translate(486,564)"><rect class="ib" width="97" height="8"/><text class="ic" x="5" y="6.2" textLength="25" lengthAdjust="spacingAndGlyphs">055099.10</text><rect class="br" x="33" y="1.5" width="1.4" height="5"/><text class="im" x="38" y="6.4">잡철물</text></g>
<g transform="translate(586,564)"><rect class="ib" width="95" height="8"/><text class="ic" x="5" y="6.2" textLength="25" lengthAdjust="spacingAndGlyphs">055133.10</text><rect class="br" x="33" y="1.5" width="1.4" height="5"/><text class="im" x="38" y="6.4">금속 사다리</text></g>
<g transform="translate(684,564)"><rect class="ib" width="40" height="8"/><text class="ic" x="5" y="6.2" textLength="19" lengthAdjust="spacingAndGlyphs">055300.</text></g>
<g transform="translate(384,577)"><rect class="ib" width="99" height="8"/><text class="ic" x="5" y="6.2" textLength="25" lengthAdjust="spacingAndGlyphs">064313.10</text><rect class="br" x="33" y="1.5" width="1.4" height="5"/><text class="im" x="38" y="6.4">계단공사-목재</text></g>
<g transform="translate(486,577)"><rect class="ib" width="97" height="8"/><text class="ic" x="5" y="6.2" textLength="25" lengthAdjust="spacingAndGlyphs">064313.15</text><rect class="br" x="33" y="1.5" width="1.4" height="5"/><text class="im" x="38" y="6.4">계단공사-기타</text></g>
<g transform="translate(586,577)"><rect class="ib" width="95" height="8"/><text class="ic" x="5" y="6.2" textLength="25" lengthAdjust="spacingAndGlyphs">055200.10</text><rect class="br" x="33" y="1.5" width="1.4" height="5"/><text class="im" x="38" y="6.4">계단공사-금속</text></g>
<g transform="translate(384,590)"><rect class="ib" width="99" height="8"/><text class="ic" x="5" y="6.2" textLength="25" lengthAdjust="spacingAndGlyphs">071100.10</text><rect class="br" x="33" y="1.5" width="1.4" height="5"/><text class="im" x="38" y="6.4">복합방수</text></g>
<g transform="translate(486,590)"><rect class="ib" width="97" height="8"/><text class="ic" x="5" y="6.2" textLength="25" lengthAdjust="spacingAndGlyphs">071119.10</text><rect class="br" x="33" y="1.5" width="1.4" height="5"/><text class="im" x="38" y="6.4">방습지-벽</text></g>
<g transform="translate(586,590)"><rect class="ib" width="95" height="8"/><text class="ic" x="5" y="6.2" textLength="25" lengthAdjust="spacingAndGlyphs">071900.10</text><rect class="br" x="33" y="1.5" width="1.4" height="5"/><text class="im" x="38" y="6.4">발수제</text></g>
<g transform="translate(684,590)"><rect class="ib" width="40" height="8"/><text class="ic" x="5" y="6.2" textLength="15" lengthAdjust="spacingAndGlyphs">07130</text></g>
<g transform="translate(384,603)"><rect class="ib" width="99" height="8"/><text class="ic" x="5" y="6.2" textLength="25" lengthAdjust="spacingAndGlyphs">072100.10</text><rect class="br" x="33" y="1.5" width="1.4" height="5"/><text class="im" x="38" y="6.4">단열필름</text></g>
<g transform="translate(486,603)"><rect class="ib" width="97" height="8"/><text class="ic" x="5" y="6.2" textLength="25" lengthAdjust="spacingAndGlyphs">072113.10</text><rect class="br" x="33" y="1.5" width="1.4" height="5"/><text class="im" x="38" y="6.4">보드형 단열</text></g>
<g transform="translate(586,603)"><rect class="ib" width="95" height="8"/><text class="ic" x="5" y="6.2" textLength="25" lengthAdjust="spacingAndGlyphs">072116.10</text><rect class="br" x="33" y="1.5" width="1.4" height="5"/><text class="im" x="38" y="6.4">모포형 단열</text></g>
<g transform="translate(684,603)"><rect class="ib" width="40" height="8"/><text class="ic" x="5" y="6.2" textLength="15" lengthAdjust="spacingAndGlyphs">07212</text></g>
<g transform="translate(384,615)"><rect class="ib" width="99" height="8"/><text class="ic" x="5" y="6.2" textLength="25" lengthAdjust="spacingAndGlyphs">079213.10</text><rect class="br" x="33" y="1.5" width="1.4" height="5"/><text class="im" x="38" y="6.4">실리콘 실런트</text></g>
<g transform="translate(486,615)"><rect class="ib" width="97" height="8"/><text class="ic" x="5" y="6.2" textLength="25" lengthAdjust="spacingAndGlyphs">079216.10</text><rect class="br" x="33" y="1.5" width="1.4" height="5"/><text class="im" x="38" y="6.4">코킹 실런트</text></g>
<g transform="translate(384,628)"><rect class="ib" width="99" height="8"/><text class="ic" x="5" y="6.2" textLength="25" lengthAdjust="spacingAndGlyphs">064900.10</text><rect class="br" x="33" y="1.5" width="1.4" height="5"/><text class="im" x="38" y="6.4">루바-목재</text></g>
<g transform="translate(486,628)"><rect class="ib" width="97" height="8"/><text class="ic" x="5" y="6.2" textLength="25" lengthAdjust="spacingAndGlyphs">089100.10</text><rect class="br" x="33" y="1.5" width="1.4" height="5"/><text class="im" x="38" y="6.4">루바-기타</text></g>
<g transform="translate(586,628)"><rect class="ib" width="95" height="8"/><text class="ic" x="5" y="6.2" textLength="25" lengthAdjust="spacingAndGlyphs">081300.10</text><rect class="br" x="33" y="1.5" width="1.4" height="5"/><text class="im" x="38" y="6.4">도어-금속</text></g>
<g transform="translate(684,628)"><rect class="ib" width="40" height="8"/><text class="ic" x="5" y="6.2" textLength="19" lengthAdjust="spacingAndGlyphs">081400.</text></g>
<g transform="translate(384,641)"><rect class="ib" width="99" height="8"/><text class="ic" x="5" y="6.2" textLength="25" lengthAdjust="spacingAndGlyphs">085300.10</text><rect class="br" x="33" y="1.5" width="1.4" height="5"/><text class="im" x="38" y="6.4">창문-플라스틱</text></g>
<g transform="translate(486,641)"><rect class="ib" width="97" height="8"/><text class="ic" x="5" y="6.2" textLength="25" lengthAdjust="spacingAndGlyphs">085400.10</text><rect class="br" x="33" y="1.5" width="1.4" height="5"/><text class="im" x="38" y="6.4">창문-합성</text></g>
<g transform="translate(586,641)"><rect class="ib" width="95" height="8"/><text class="ic" x="5" y="6.2" textLength="25" lengthAdjust="spacingAndGlyphs">086000.10</text><rect class="br" x="33" y="1.5" width="1.4" height="5"/><text class="im" x="38" y="6.4">천창</text></g>
<g transform="translate(684,641)"><rect class="ib" width="40" height="8"/><text class="ic" x="5" y="6.2" textLength="19" lengthAdjust="spacingAndGlyphs">087000.</text></g>
<g transform="translate(384,655)"><rect class="ib" width="197" height="8"/><text class="ic" x="5" y="6.2" textLength="25" lengthAdjust="spacingAndGlyphs">096500.10</text><rect class="br" x="33" y="1.5" width="1.4" height="5"/><text class="im" x="38" y="6.4">바닥마감- 합성재</text></g>
<g transform="translate(586,655)"><rect class="ib" width="78" height="8"/><text class="ic" x="5" y="6.2" textLength="25" lengthAdjust="spacingAndGlyphs">096500.20</text><rect class="br" x="33" y="1.5" width="1.4" height="5"/><text class="im" x="38" y="6.4" textLength="37" lengthAdjust="spacingAndGlyphs">바닥마감- 한지장판</text></g>
<g transform="translate(667,655)"><rect class="ib" width="50" height="8"/><text class="ic" x="5" y="6.2" textLength="25" lengthAdjust="spacingAndGlyphs">096400.10</text><rect class="br" x="33" y="1.5" width="1.4" height="5"/><text class="im" x="38" y="6.4">바</text></g>
<g transform="translate(384,667)"><rect class="ib" width="99" height="8"/><text class="ic" x="5" y="6.2" textLength="25" lengthAdjust="spacingAndGlyphs">035216.10</text><rect class="br" x="33" y="1.5" width="1.4" height="5"/><text class="im" x="38" y="6.4">온돌공사</text></g>
<g transform="translate(486,667)"><rect class="ib" width="97" height="8"/><text class="ic" x="5" y="6.2" textLength="25" lengthAdjust="spacingAndGlyphs">238323.10</text><rect class="br" x="33" y="1.5" width="1.4" height="5"/><text class="im" x="38" y="6.4">전기패널</text></g>
<g transform="translate(384,681)"><rect class="ib" width="124" height="8"/><text class="ic" x="5" y="6.2" textLength="25" lengthAdjust="spacingAndGlyphs">092900.10</text><rect class="br" x="33" y="1.5" width="1.4" height="5"/><text class="im" x="38" y="6.4">석고보드 붙이기-벽</text></g>
<g transform="translate(511,681)"><rect class="ib" width="126" height="8"/><text class="ic" x="5" y="6.2" textLength="25" lengthAdjust="spacingAndGlyphs">092900.20</text><rect class="br" x="33" y="1.5" width="1.4" height="5"/><text class="im" x="38" y="6.4">석고보드 붙이기-천장</text></g>
<g transform="translate(384,694)"><rect class="ib" width="99" height="8"/><text class="ic" x="5" y="6.2" textLength="25" lengthAdjust="spacingAndGlyphs">092523.10</text><rect class="br" x="33" y="1.5" width="1.4" height="5"/><text class="im" x="38" y="6.4">한식바르기-벽</text></g>
<g transform="translate(486,694)"><rect class="ib" width="97" height="8"/><text class="ic" x="5" y="6.2" textLength="25" lengthAdjust="spacingAndGlyphs">092523.20</text><rect class="br" x="33" y="1.5" width="1.4" height="5"/><text class="im" x="38" y="6.4">한식바르기-기타</text></g>
<g transform="translate(586,694)"><rect class="ib" width="95" height="8"/><text class="ic" x="5" y="6.2" textLength="25" lengthAdjust="spacingAndGlyphs">092523.30</text><rect class="br" x="33" y="1.5" width="1.4" height="5"/><text class="im" x="38" y="6.4">한식바르기-지붕</text></g>
<g transform="translate(684,694)"><rect class="ib" width="40" height="8"/><text class="ic" x="5" y="6.2" textLength="19" lengthAdjust="spacingAndGlyphs">092500.</text></g>
<g transform="translate(384,707)"><rect class="ib" width="99" height="8"/><text class="ic" x="5" y="6.2" textLength="25" lengthAdjust="spacingAndGlyphs">062000.10</text><rect class="br" x="33" y="1.5" width="1.4" height="5"/><text class="im" x="38" y="6.4">천장틀공사-목재</text></g>
<g transform="translate(486,707)"><rect class="ib" width="97" height="8"/><text class="ic" x="5" y="6.2" textLength="25" lengthAdjust="spacingAndGlyphs">062000.20</text><rect class="br" x="33" y="1.5" width="1.4" height="5"/><text class="im" x="38" y="6.4">천장틀공사-기타</text></g>
<g transform="translate(586,707)"><rect class="ib" width="95" height="8"/><text class="ic" x="5" y="6.2" textLength="25" lengthAdjust="spacingAndGlyphs">092226.10</text><rect class="br" x="33" y="1.5" width="1.4" height="5"/><text class="im" x="38" y="6.4">경량철골-천장틀</text></g>
<g transform="translate(684,707)"><rect class="ib" width="40" height="8"/><text class="ic" x="5" y="6.2" textLength="19" lengthAdjust="spacingAndGlyphs">095000.</text></g>
<g transform="translate(384,721)"><rect class="ib" width="99" height="8"/><text class="ic" x="5" y="6.2" textLength="25" lengthAdjust="spacingAndGlyphs">093013.10</text><rect class="br" x="33" y="1.5" width="1.4" height="5"/><text class="im" x="38" y="6.4">타일공사-자기질</text></g>
<g transform="translate(486,721)"><rect class="ib" width="97" height="8"/><text class="ic" x="5" y="6.2" textLength="25" lengthAdjust="spacingAndGlyphs">093033.10</text><rect class="br" x="33" y="1.5" width="1.4" height="5"/><text class="im" x="38" y="6.4">타일공사-석재</text></g>
<g transform="translate(586,721)"><rect class="ib" width="95" height="8"/><text class="ic" x="5" y="6.2" textLength="25" lengthAdjust="spacingAndGlyphs">093099.10</text><rect class="br" x="33" y="1.5" width="1.4" height="5"/><text class="im" x="38" y="6.4">타일공사-기타</text></g>
<g transform="translate(684,721)"><rect class="ib" width="40" height="8"/><text class="ic" x="5" y="6.2" textLength="19" lengthAdjust="spacingAndGlyphs">095000.</text></g>
<g transform="translate(384,734)"><rect class="ib" width="99" height="8"/><text class="ic" x="5" y="6.2" textLength="25" lengthAdjust="spacingAndGlyphs">099113.10</text><rect class="br" x="33" y="1.5" width="1.4" height="5"/><text class="im" x="38" y="6.4">도장공사-외부</text></g>
<g transform="translate(486,734)"><rect class="ib" width="97" height="8"/><text class="ic" x="5" y="6.2" textLength="25" lengthAdjust="spacingAndGlyphs">099123.10</text><rect class="br" x="33" y="1.5" width="1.4" height="5"/><text class="im" x="38" y="6.4">도장공사-내부</text></g>
<g transform="translate(586,734)"><rect class="ib" width="95" height="8"/><text class="ic" x="5" y="6.2" textLength="25" lengthAdjust="spacingAndGlyphs">099300.10</text><rect class="br" x="33" y="1.5" width="1.4" height="5"/><text class="im" x="38" y="6.4">도장공사-목부</text></g>
<g transform="translate(684,734)"><rect class="ib" width="40" height="8"/><text class="ic" x="5" y="6.2" textLength="19" lengthAdjust="spacingAndGlyphs">099199.</text></g>
<g transform="translate(384,746)"><rect class="ib" width="99" height="8"/><text class="ic" x="5" y="6.2" textLength="25" lengthAdjust="spacingAndGlyphs">097223.10</text><rect class="br" x="33" y="1.5" width="1.4" height="5"/><text class="im" x="38" y="6.4">도배공사-벽지</text></g>
<g transform="translate(486,746)"><rect class="ib" width="97" height="8"/><text class="ic" x="5" y="6.2" textLength="25" lengthAdjust="spacingAndGlyphs">097223.20</text><rect class="br" x="33" y="1.5" width="1.4" height="5"/><text class="im" x="38" y="6.4">도배공사-천장</text></g>
<g transform="translate(384,758)"><rect class="ib" width="99" height="8"/><text class="ic" x="5" y="6.2" textLength="25" lengthAdjust="spacingAndGlyphs">064600.10</text><rect class="br" x="33" y="1.5" width="1.4" height="5"/><text class="im" x="38" y="6.4">목재마감-기타</text></g>
<g transform="translate(486,758)"><rect class="ib" width="97" height="8"/><text class="ic" x="5" y="6.2" textLength="25" lengthAdjust="spacingAndGlyphs">064613.10</text><rect class="br" x="33" y="1.5" width="1.4" height="5"/><text class="im" x="38" y="6.4">목재마감-창호몰딩</text></g>
<g transform="translate(586,758)"><rect class="ib" width="95" height="8"/><text class="ic" x="5" y="6.2" textLength="25" lengthAdjust="spacingAndGlyphs">064619.10</text><rect class="br" x="33" y="1.5" width="1.4" height="5"/><text class="im" x="38" y="6.4">목재마감-걸레받이</text></g>
<g transform="translate(684,758)"><rect class="ib" width="40" height="8"/><text class="ic" x="5" y="6.2" textLength="19" lengthAdjust="spacingAndGlyphs">066500.</text></g>
<g transform="translate(384,771)"><rect class="ib" width="99" height="8"/><text class="ic" x="5" y="6.2" textLength="25" lengthAdjust="spacingAndGlyphs">123000.10</text><rect class="br" x="33" y="1.5" width="1.4" height="5"/><text class="im" x="38" y="6.4">신발장</text></g>
<g transform="translate(486,771)"><rect class="ib" width="97" height="8"/><text class="ic" x="5" y="6.2" textLength="25" lengthAdjust="spacingAndGlyphs">123000.20</text><rect class="br" x="33" y="1.5" width="1.4" height="5"/><text class="im" x="38" y="6.4">붙박이장</text></g>
<g transform="translate(586,771)"><rect class="ib" width="95" height="8"/><text class="ic" x="5" y="6.2" textLength="25" lengthAdjust="spacingAndGlyphs">123000.30</text><rect class="br" x="33" y="1.5" width="1.4" height="5"/><text class="im" x="38" y="6.4">장식장</text></g>
<g transform="translate(684,771)"><rect class="ib" width="40" height="8"/><text class="ic" x="5" y="6.2" textLength="19" lengthAdjust="spacingAndGlyphs">123000.</text></g>
<g transform="translate(384,784)"><rect class="ib" width="99" height="8"/><text class="ic" x="5" y="6.2" textLength="25" lengthAdjust="spacingAndGlyphs">229000.10</text><rect class="br" x="33" y="1.5" width="1.4" height="5"/><text class="im" x="38" y="6.4">UBR 화장실 공사</text></g>

<g transform="translate(384,823)"><rect class="ib" width="113" height="8"/><text class="ic" x="5" y="6.2" textLength="25" lengthAdjust="spacingAndGlyphs">054223.10</text><rect class="br" x="33" y="1.5" width="1.4" height="5"/><text class="im" x="38" y="6.4">경량철골구조-지붕</text></g>
<g transform="translate(501,823)"><rect class="ib" width="116" height="8"/><text class="ic" x="5" y="6.2" textLength="25" lengthAdjust="spacingAndGlyphs">061100.31</text><rect class="br" x="33" y="1.5" width="1.4" height="5"/><text class="im" x="38" y="6.4">원목지붕공사-서까래</text></g>
<g transform="translate(620,823)"><rect class="ib" width="100" height="8"/><text class="ic" x="5" y="6.2" textLength="25" lengthAdjust="spacingAndGlyphs">061100.32</text><rect class="br" x="33" y="1.5" width="1.4" height="5"/><text class="im" x="38" y="6.4">원목지붕공사-기</text></g>
<g transform="translate(384,835)"><rect class="ib" width="113" height="8"/><text class="ic" x="5" y="6.2" textLength="25" lengthAdjust="spacingAndGlyphs">061113.33</text><rect class="br" x="33" y="1.5" width="1.4" height="5"/><text class="im" x="38" y="6.4">집성목지붕공사-기타</text></g>
<g transform="translate(501,835)"><rect class="ib" width="116" height="8"/><text class="ic" x="5" y="6.2" textLength="25" lengthAdjust="spacingAndGlyphs">061113.32</text><rect class="br" x="33" y="1.5" width="1.4" height="5"/><text class="im" x="38" y="6.4">집성목지붕공사-판재</text></g>
<g transform="translate(620,835)"><rect class="ib" width="100" height="8"/><text class="ic" x="5" y="6.2" textLength="25" lengthAdjust="spacingAndGlyphs">061800.23</text><rect class="br" x="33" y="1.5" width="1.4" height="5"/><text class="im" x="38" y="6.4">신한옥 프레임 공</text></g>
<g transform="translate(384,855)"><rect class="ib" width="113" height="8"/><text class="ic" x="5" y="6.2" textLength="25" lengthAdjust="spacingAndGlyphs">071119.20</text><rect class="br" x="33" y="1.5" width="1.4" height="5"/><text class="im" x="38" y="6.4">방습지 - 지붕</text></g>
<g transform="translate(384,874)"><rect class="ib" width="98" height="8"/><text class="ic" x="5" y="6.2" textLength="25" lengthAdjust="spacingAndGlyphs">073000.10</text><rect class="br" x="33" y="1.5" width="1.4" height="5"/><text class="im" x="38" y="6.4">지붕마감-한식</text></g>
<g transform="translate(485,874)"><rect class="ib" width="95" height="8"/><text class="ic" x="5" y="6.2" textLength="25" lengthAdjust="spacingAndGlyphs">073000.20</text><rect class="br" x="33" y="1.5" width="1.4" height="5"/><text class="im" x="38" y="6.4">지붕마감-기타</text></g>
<g transform="translate(583,874)"><rect class="ib" width="97" height="8"/><text class="ic" x="5" y="6.2" textLength="25" lengthAdjust="spacingAndGlyphs">073213.10</text><rect class="br" x="33" y="1.5" width="1.4" height="5"/><text class="im" x="38" y="6.4">전통한식기와-암와</text></g>
<g transform="translate(684,874)"><rect class="ib" width="40" height="8"/><text class="ic" x="5" y="6.2" textLength="19" lengthAdjust="spacingAndGlyphs">073213.</text></g>
<g transform="translate(384,886)"><rect class="ib" width="98" height="8"/><text class="ic" x="5" y="6.2" textLength="25" lengthAdjust="spacingAndGlyphs">073226.10</text><rect class="br" x="33" y="1.5" width="1.4" height="5"/><text class="im" x="38" y="6.4">기와-플라스틱</text></g>
</g>
</svg>
